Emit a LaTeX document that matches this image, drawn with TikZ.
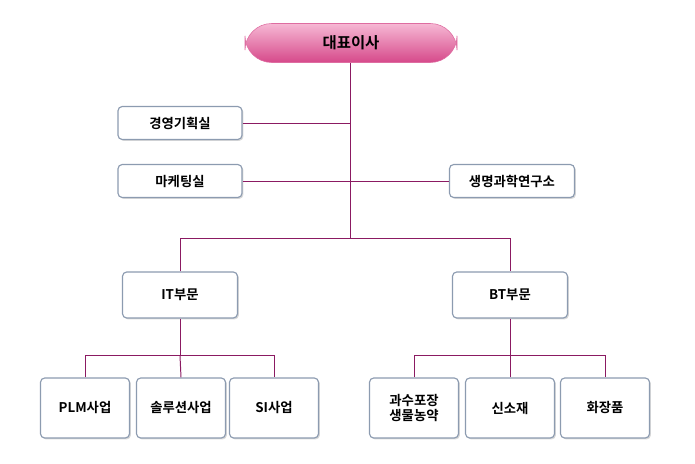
\documentclass[tikz,border=0pt]{standalone}
\usepackage{fontspec}
\setmainfont{Noto Sans CJK KR}[BoldFont={* Bold}]
\usetikzlibrary{shadows}
\definecolor{linkc}{HTML}{8B1A62}
\definecolor{boxline}{HTML}{8C9BB0}
\definecolor{pinktop}{HTML}{F6B8D4}
\definecolor{pinkbot}{HTML}{D6498A}
\begin{document}
\begin{tikzpicture}[x=0.025cm,y=-0.025cm,
  unit/.style={draw=boxline, line width=0.8pt, rounded corners=3pt, fill=white,
    drop shadow={shadow xshift=1pt, shadow yshift=-1pt, opacity=0.3},
    font=\bfseries\fontsize{9.5}{11}\selectfont, align=center, inner sep=1pt},
  ceo/.style={draw=pinkbot!80!white, rounded corners=19pt, top color=pinktop, bottom color=pinkbot,
    minimum width=212*0.025cm, minimum height=39*0.025cm, font=\bfseries\fontsize{11}{13}\selectfont},
  link/.style={draw=linkc, line width=0.7pt}
]
  \useasboundingbox (0,0) rectangle (695,464);
  % top
  \node[ceo] (ceo) at (351,43) {대표이사};
  % staff
  \node[unit, minimum width=124*0.025cm, minimum height=33*0.025cm] (plan) at (180,123) {경영기획실};
  \node[unit, minimum width=124*0.025cm, minimum height=33*0.025cm] (mkt) at (180,181) {마케팅실};
  \node[unit, minimum width=125*0.025cm, minimum height=33*0.025cm] (lab) at (512,181) {생명과학연구소};
  % divisions
  \node[unit, minimum width=115*0.025cm, minimum height=46*0.025cm] (it) at (180,295) {IT부문};
  \node[unit, minimum width=115*0.025cm, minimum height=46*0.025cm] (bt) at (510,295) {BT부문};
  % business units
  \foreach \name/\xpos/\txt in {plm/85/PLM사업, sol/181/솔루션사업, si/274/SI사업,
      fruit/414/과수포장\\생물농약, mat/510/신소재, cos/605/화장품}
    \node[unit, minimum width=89*0.025cm, minimum height=60*0.025cm] (\name) at (\xpos,408) {\txt};
  % connectors
  \coordinate (hub) at (350,238);
  \draw[link] (ceo.south -| hub) -- (hub);
  \draw[link] (plan.east) -- (plan.east -| hub);
  \draw[link] (mkt.east) -- (lab.west);
  \draw[link] (it.north) -- (it.north |- hub) -- (bt.north |- hub) -- (bt.north);
  \draw[link] (it.south) -- ++(0,37) coordinate (itbar);
  \draw[link] (bt.south) -- ++(0,37) coordinate (btbar);
  \draw[link] (plm.north) -- (plm.north |- itbar) -- (si.north |- itbar) -- (si.north);
  \draw[link] (sol.north) -- (itbar);
  \draw[link] (fruit.north) -- (fruit.north |- btbar) -- (cos.north |- btbar) -- (cos.north);
  \draw[link] (mat.north) -- (btbar);
\end{tikzpicture}
\end{document}
